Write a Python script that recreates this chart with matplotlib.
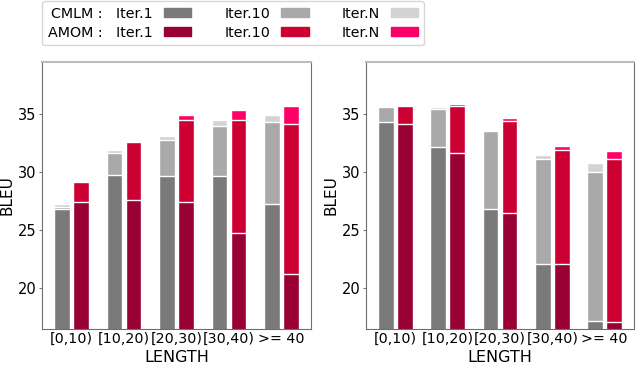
import numpy as np
import matplotlib.pyplot as plt
from matplotlib.patches import Patch

plt.rcParams['font.family'] = ['DejaVu Sans']

groups = ['[0,10)', '[10,20)', '[20,30)', '[30,40)', '>= 40']

# left panel
cmlm_1_a = [26.88, 29.75, 29.72, 29.69, 27.25]
cmlm_10_a = [27.05, 31.70, 32.76, 33.96, 34.31]
cmlm_n_a = [27.31, 31.95, 33.13, 34.50, 34.94]
amom_1_a = [27.40, 27.62, 27.42, 24.76, 21.26]
amom_10_a = [29.17, 32.62, 34.48, 34.48, 34.14]
amom_n_a = [29.20, 32.65, 34.97, 35.37, 35.74]

# right panel
cmlm_1_b = [34.31, 32.16, 26.82, 22.06, 17.19]
cmlm_10_b = [35.63, 35.43, 33.54, 31.18, 30.06]
cmlm_n_b = [35.65, 35.63, 33.65, 31.50, 30.81]
amom_1_b = [34.14, 31.64, 26.48, 22.11, 17.10]
amom_10_b = [35.74, 35.74, 34.40, 31.93, 31.15]
amom_n_b = [35.76, 35.91, 34.68, 32.27, 31.87]

gray_cols = ['#7a7a7a', '#a9a9a9', '#d3d3d3']
red_cols = ['#990033', '#cc0033', '#ff0066']

fig = plt.figure(figsize=(6.36, 3.66), dpi=100)
ax1 = fig.add_axes([42 / 636, 37 / 366, 269 / 636, 267 / 366])
ax2 = fig.add_axes([366 / 636, 37 / 366, 268 / 636, 267 / 366])


def draw(ax, cm, am):
    x = np.arange(len(groups))
    w = 0.3
    # tallest first, then overlay the lower iterations
    for vals, c in zip(cm[::-1], gray_cols[::-1]):
        ax.bar(x - 0.18, vals, w, color=c, edgecolor='white', linewidth=1)
    for vals, c in zip(am[::-1], red_cols[::-1]):
        ax.bar(x + 0.18, vals, w, color=c, edgecolor='white', linewidth=1)
    ax.set_ylim(16.5, 39.5)
    ax.set_yticks([20, 25, 30, 35])
    ax.set_xticks(x)
    ax.set_xticklabels(groups, fontsize=10.3)
    ax.tick_params(axis='x', length=0, pad=2)
    ax.tick_params(axis='y', length=2, color='#777777', labelsize=10.5, pad=2)
    ax.set_xlabel('LENGTH', fontsize=11.5, labelpad=3)
    ax.set_ylabel('BLEU', fontsize=11, labelpad=2.5)
    for s in ['left', 'right', 'bottom']:
        ax.spines[s].set_color('#6e6e6e')
    ax.spines['top'].set_color('#bbbbbb')
    ax.spines['top'].set_linewidth(1.5)


draw(ax1, [cmlm_1_a, cmlm_10_a, cmlm_n_a], [amom_1_a, amom_10_a, amom_n_a])
draw(ax2, [cmlm_1_b, cmlm_10_b, cmlm_n_b], [amom_1_b, amom_10_b, amom_n_b])

handles = [Patch(color=gray_cols[0]), Patch(color=red_cols[0]),
           Patch(color=gray_cols[1]), Patch(color=red_cols[1]),
           Patch(color=gray_cols[2]), Patch(color=red_cols[2])]
labels = ['CMLM :   Iter.1', 'AMOM :   Iter.1', 'Iter.10', 'Iter.10', 'Iter.N', 'Iter.N']
fig.legend(handles, labels, ncol=3, markerfirst=False, loc='upper left',
           bbox_to_anchor=(42 / 636, 1 - 1 / 366), fontsize=10.3,
           handlelength=1.9, handleheight=0.55, labelspacing=0.35,
           handletextpad=0.8, columnspacing=2.3, borderaxespad=0)

fig.savefig('out.png', dpi=100)
